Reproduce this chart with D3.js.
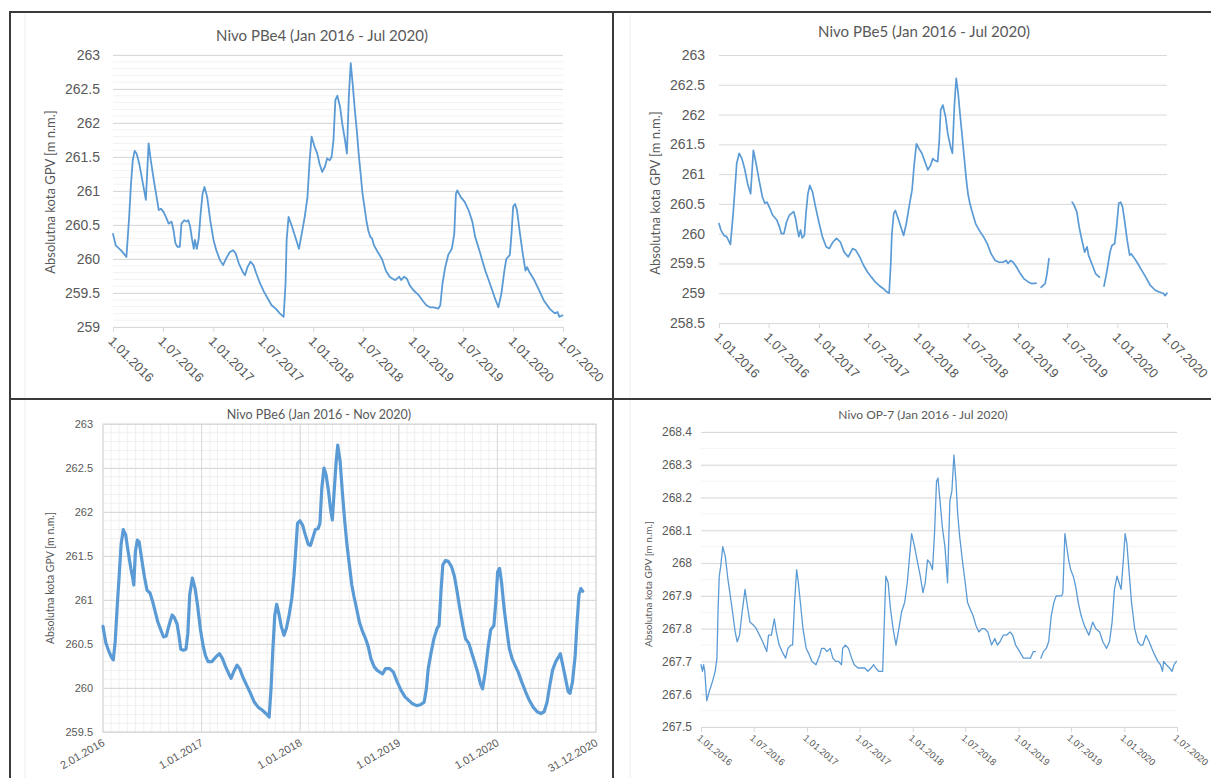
<!DOCTYPE html>
<html><head><meta charset="utf-8">
<script src="https://cdn.jsdelivr.net/npm/d3@7"></script>
<style>
html,body{margin:0;padding:0;background:#fff;}
svg{display:block;font-family:Lato,"Liberation Sans",Arial,sans-serif;}
</style></head><body>
<svg id="chart" width="1211" height="778"></svg>
<script>
// ---------------- DATA ----------------
const pbe4 = [["2016-01-01",260.37],["2016-01-11",260.2],["2016-02-01",260.12],["2016-02-19",260.03],["2016-02-29",260.62],["2016-03-06",261.06],["2016-03-13",261.45],["2016-03-20",261.59],["2016-03-27",261.55],["2016-04-06",261.4],["2016-04-17",261.16],["2016-04-30",260.87],["2016-05-10",261.7],["2016-05-18",261.45],["2016-05-29",261.16],["2016-06-10",260.87],["2016-06-16",260.72],["2016-06-24",260.74],["2016-07-04",260.69],["2016-07-14",260.6],["2016-07-22",260.52],["2016-08-02",260.55],["2016-08-09",260.42],["2016-08-16",260.23],["2016-08-23",260.18],["2016-09-01",260.18],["2016-09-07",260.52],["2016-09-17",260.57],["2016-09-25",260.55],["2016-10-02",260.57],["2016-10-09",260.47],["2016-10-16",260.28],["2016-10-22",260.15],["2016-10-26",260.28],["2016-11-02",260.15],["2016-11-09",260.3],["2016-11-16",260.67],["2016-11-23",260.96],["2016-11-30",261.06],["2016-12-10",260.91],["2016-12-21",260.57],["2017-01-02",260.28],["2017-01-12",260.13],["2017-01-26",259.98],["2017-02-06",259.91],["2017-02-16",260.0],["2017-03-02",260.1],["2017-03-14",260.13],["2017-03-24",260.08],["2017-04-05",259.93],["2017-04-19",259.81],["2017-04-27",259.76],["2017-05-06",259.88],["2017-05-17",259.96],["2017-05-28",259.91],["2017-06-07",259.79],["2017-06-21",259.64],["2017-07-05",259.52],["2017-07-19",259.42],["2017-08-02",259.32],["2017-08-17",259.27],["2017-09-01",259.2],["2017-09-15",259.15],["2017-09-22",259.64],["2017-09-26",260.28],["2017-10-03",260.62],["2017-10-16",260.47],["2017-10-27",260.33],["2017-11-10",260.15],["2017-11-20",260.37],["2017-12-01",260.62],["2017-12-11",260.91],["2017-12-19",261.45],["2017-12-26",261.8],["2018-01-06",261.65],["2018-01-16",261.55],["2018-01-24",261.4],["2018-02-03",261.28],["2018-02-13",261.36],["2018-02-21",261.48],["2018-03-02",261.45],["2018-03-09",261.5],["2018-03-16",261.75],["2018-03-23",262.34],["2018-03-30",262.4],["2018-04-09",262.24],["2018-04-17",261.99],["2018-04-27",261.75],["2018-05-04",261.55],["2018-05-11",262.39],["2018-05-18",262.88],["2018-05-25",262.58],["2018-06-02",262.19],["2018-06-09",261.9],["2018-06-16",261.55],["2018-06-23",261.26],["2018-06-30",260.96],["2018-07-07",260.77],["2018-07-14",260.57],["2018-07-21",260.42],["2018-07-28",260.33],["2018-08-04",260.3],["2018-08-11",260.2],["2018-08-25",260.1],["2018-09-09",260.0],["2018-09-23",259.83],["2018-10-07",259.74],["2018-10-18",259.71],["2018-10-28",259.69],["2018-11-11",259.74],["2018-11-18",259.69],["2018-11-29",259.74],["2018-12-09",259.71],["2018-12-20",259.61],["2019-01-02",259.54],["2019-01-21",259.47],["2019-02-04",259.39],["2019-02-18",259.32],["2019-03-03",259.29],["2019-03-17",259.29],["2019-04-03",259.27],["2019-04-10",259.32],["2019-04-18",259.64],["2019-04-28",259.88],["2019-05-09",260.06],["2019-05-22",260.15],["2019-05-31",260.37],["2019-06-06",260.96],["2019-06-11",261.01],["2019-06-24",260.91],["2019-07-08",260.84],["2019-07-22",260.72],["2019-08-05",260.55],["2019-08-15",260.33],["2019-09-03",260.08],["2019-09-21",259.83],["2019-10-08",259.64],["2019-10-25",259.44],["2019-11-08",259.29],["2019-11-19",259.49],["2019-11-30",259.83],["2019-12-07",260.0],["2019-12-20",260.06],["2019-12-26",260.37],["2020-01-01",260.77],["2020-01-08",260.81],["2020-01-15",260.72],["2020-01-26",260.37],["2020-02-05",260.08],["2020-02-15",259.83],["2020-02-21",259.88],["2020-02-29",259.81],["2020-03-18",259.69],["2020-04-05",259.54],["2020-04-22",259.39],["2020-05-13",259.27],["2020-06-01",259.2],["2020-06-11",259.22],["2020-06-18",259.15],["2020-06-29",259.17]];

const pbe5 = [["2016-01-01",260.17],["2016-01-08",260.06],["2016-01-19",259.97],["2016-01-29",259.95],["2016-02-12",259.82],["2016-02-22",260.34],["2016-02-29",260.79],["2016-03-06",261.18],["2016-03-15",261.35],["2016-03-25",261.26],["2016-04-04",261.09],["2016-04-15",260.84],["2016-04-26",260.67],["2016-05-06",261.4],["2016-05-16",261.18],["2016-05-27",260.9],["2016-06-08",260.62],["2016-06-17",260.51],["2016-06-25",260.53],["2016-07-06",260.42],["2016-07-16",260.31],["2016-07-31",260.23],["2016-08-10",260.11],["2016-08-17",260.0],["2016-08-26",260.0],["2016-09-05",260.2],["2016-09-15",260.31],["2016-09-23",260.34],["2016-10-01",260.37],["2016-10-08",260.25],["2016-10-15",260.06],["2016-10-20",259.95],["2016-10-26",260.06],["2016-11-01",259.93],["2016-11-09",259.97],["2016-11-15",260.34],["2016-11-22",260.67],["2016-11-29",260.81],["2016-12-09",260.7],["2016-12-20",260.45],["2017-01-01",260.2],["2017-01-14",259.95],["2017-01-28",259.78],["2017-02-08",259.75],["2017-02-22",259.86],["2017-03-07",259.92],["2017-03-21",259.86],["2017-04-04",259.69],["2017-04-19",259.61],["2017-05-05",259.75],["2017-05-17",259.72],["2017-05-31",259.61],["2017-06-14",259.47],["2017-06-28",259.36],["2017-07-13",259.27],["2017-07-27",259.19],["2017-08-10",259.13],["2017-08-25",259.08],["2017-09-08",259.02],["2017-09-16",259.0],["2017-09-22",259.5],["2017-09-26",260.0],["2017-10-03",260.34],["2017-10-09",260.39],["2017-10-17",260.28],["2017-10-27",260.14],["2017-11-08",259.97],["2017-11-18",260.17],["2017-11-28",260.45],["2017-12-09",260.73],["2017-12-16",261.12],["2017-12-25",261.51],["2018-01-03",261.43],["2018-01-14",261.35],["2018-01-25",261.21],["2018-02-05",261.07],["2018-02-15",261.15],["2018-02-23",261.26],["2018-03-03",261.23],["2018-03-13",261.21],["2018-03-19",261.57],["2018-03-24",262.08],["2018-04-01",262.16],["2018-04-11",261.96],["2018-04-19",261.68],["2018-04-29",261.46],["2018-05-06",261.35],["2018-05-13",262.13],["2018-05-20",262.61],["2018-05-27",262.36],["2018-06-04",261.96],["2018-06-11",261.63],["2018-06-18",261.29],["2018-06-25",260.95],["2018-07-02",260.67],["2018-07-09",260.51],["2018-07-16",260.39],["2018-07-23",260.28],["2018-07-30",260.17],["2018-08-06",260.11],["2018-08-16",260.03],["2018-08-28",259.95],["2018-09-11",259.83],["2018-09-25",259.66],["2018-10-10",259.55],["2018-10-24",259.52],["2018-11-07",259.52],["2018-11-19",259.55],["2018-11-26",259.5],["2018-12-05",259.55],["2018-12-15",259.52],["2018-12-27",259.44],["2019-01-10",259.33],["2019-01-24",259.24],["2019-02-08",259.19],["2019-02-22",259.16],["2019-03-09",259.17],["2019-03-18",null],["2019-03-27",259.1],["2019-04-11",259.16],["2019-04-18",259.33],["2019-04-25",259.58],["2019-06-01",null],["2019-07-19",260.53],["2019-07-26",260.48],["2019-08-05",260.37],["2019-08-14",260.11],["2019-08-24",259.89],["2019-09-03",259.69],["2019-09-12",259.78],["2019-09-17",259.64],["2019-09-29",259.5],["2019-10-13",259.33],["2019-10-27",259.27],["2019-11-05",null],["2019-11-13",259.12],["2019-11-24",259.38],["2019-12-05",259.69],["2019-12-12",259.8],["2019-12-22",259.83],["2019-12-29",260.11],["2020-01-06",260.51],["2020-01-13",260.53],["2020-01-20",260.45],["2020-01-27",260.23],["2020-02-06",259.89],["2020-02-15",259.64],["2020-02-21",259.66],["2020-02-29",259.61],["2020-03-13",259.52],["2020-03-31",259.38],["2020-04-14",259.27],["2020-05-01",259.13],["2020-05-19",259.05],["2020-06-02",259.02],["2020-06-17",259.0],["2020-06-24",258.96],["2020-07-01",259.0]];

const pbe6 = [["2016-01-02",260.7],["2016-01-12",260.52],["2016-01-22",260.43],["2016-02-02",260.35],["2016-02-09",260.32],["2016-02-16",260.52],["2016-02-23",260.9],["2016-03-02",261.28],["2016-03-09",261.63],["2016-03-17",261.8],["2016-03-26",261.74],["2016-04-04",261.55],["2016-04-14",261.36],["2016-04-21",261.25],["2016-04-25",261.17],["2016-05-01",261.55],["2016-05-08",261.68],["2016-05-15",261.66],["2016-05-24",261.47],["2016-06-03",261.27],["2016-06-13",261.11],["2016-06-24",261.08],["2016-07-04",260.98],["2016-07-13",260.87],["2016-07-23",260.75],["2016-08-03",260.66],["2016-08-13",260.58],["2016-08-23",260.59],["2016-09-04",260.73],["2016-09-14",260.83],["2016-09-22",260.8],["2016-10-02",260.73],["2016-10-09",260.6],["2016-10-16",260.44],["2016-10-26",260.43],["2016-11-04",260.44],["2016-11-11",260.62],["2016-11-18",261.06],["2016-11-28",261.25],["2016-12-08",261.13],["2016-12-17",260.94],["2016-12-27",260.68],["2017-01-06",260.49],["2017-01-15",260.37],["2017-01-25",260.3],["2017-02-08",260.3],["2017-02-22",260.35],["2017-03-08",260.39],["2017-03-20",260.33],["2017-03-31",260.24],["2017-04-12",260.16],["2017-04-20",260.11],["2017-05-02",260.2],["2017-05-12",260.26],["2017-05-22",260.22],["2017-06-02",260.13],["2017-06-17",260.03],["2017-07-01",259.94],["2017-07-15",259.84],["2017-07-30",259.78],["2017-08-13",259.75],["2017-08-27",259.71],["2017-09-08",259.67],["2017-09-15",259.99],["2017-09-22",260.45],["2017-09-29",260.83],["2017-10-06",260.95],["2017-10-15",260.83],["2017-10-23",260.7],["2017-11-02",260.6],["2017-11-11",260.68],["2017-11-21",260.83],["2017-12-01",261.02],["2017-12-09",261.28],["2017-12-16",261.59],["2017-12-22",261.87],["2017-12-31",261.9],["2018-01-10",261.85],["2018-01-20",261.74],["2018-01-31",261.63],["2018-02-08",261.62],["2018-02-18",261.72],["2018-02-26",261.8],["2018-03-08",261.81],["2018-03-15",261.87],["2018-03-22",262.27],["2018-03-30",262.5],["2018-04-07",262.42],["2018-04-16",262.23],["2018-04-23",262.04],["2018-04-30",261.91],["2018-05-06",262.2],["2018-05-14",262.57],["2018-05-20",262.76],["2018-05-29",262.57],["2018-06-06",262.23],["2018-06-15",261.89],["2018-06-23",261.63],["2018-07-02",261.4],["2018-07-11",261.17],["2018-07-19",261.04],["2018-07-29",260.9],["2018-08-08",260.75],["2018-08-20",260.64],["2018-08-31",260.56],["2018-09-10",260.47],["2018-09-20",260.33],["2018-10-02",260.24],["2018-10-13",260.2],["2018-10-23",260.18],["2018-11-02",260.16],["2018-11-13",260.22],["2018-11-28",260.22],["2018-12-12",260.18],["2018-12-26",260.07],["2019-01-10",259.97],["2019-01-24",259.9],["2019-02-07",259.86],["2019-02-21",259.82],["2019-03-08",259.8],["2019-03-22",259.81],["2019-04-05",259.84],["2019-04-13",259.99],["2019-04-20",260.22],["2019-05-01",260.41],["2019-05-11",260.56],["2019-05-23",260.68],["2019-05-30",260.71],["2019-06-06",261.09],["2019-06-13",261.4],["2019-06-23",261.45],["2019-07-03",261.44],["2019-07-15",261.38],["2019-07-26",261.27],["2019-08-05",261.09],["2019-08-15",260.9],["2019-08-26",260.71],["2019-09-05",260.56],["2019-09-17",260.51],["2019-09-27",260.41],["2019-10-08",260.3],["2019-10-20",260.18],["2019-10-30",260.05],["2019-11-07",259.99],["2019-11-17",260.18],["2019-11-27",260.45],["2019-12-07",260.66],["2019-12-19",260.71],["2019-12-26",260.98],["2020-01-02",261.32],["2020-01-09",261.36],["2020-01-16",261.21],["2020-01-26",260.9],["2020-02-04",260.68],["2020-02-14",260.45],["2020-02-25",260.33],["2020-03-06",260.26],["2020-03-18",260.18],["2020-03-31",260.07],["2020-04-14",259.96],["2020-04-28",259.86],["2020-05-13",259.78],["2020-05-27",259.73],["2020-06-10",259.71],["2020-06-22",259.73],["2020-07-03",259.84],["2020-07-13",260.03],["2020-07-23",260.2],["2020-08-04",260.3],["2020-08-14",260.35],["2020-08-21",260.39],["2020-08-30",260.26],["2020-09-09",260.11],["2020-09-19",259.96],["2020-09-26",259.94],["2020-10-05",260.07],["2020-10-15",260.37],["2020-10-22",260.75],["2020-10-29",261.06],["2020-11-05",261.13],["2020-11-12",261.1]];

const op7 = [["2016-01-01",267.69],["2016-01-06",267.67],["2016-01-10",267.69],["2016-01-14",267.67],["2016-01-21",267.58],["2016-01-30",267.61],["2016-02-10",267.64],["2016-02-19",267.67],["2016-02-25",267.71],["2016-02-29",267.86],["2016-03-04",267.96],["2016-03-09",267.99],["2016-03-16",268.05],["2016-03-25",268.02],["2016-04-03",267.95],["2016-04-08",267.92],["2016-04-19",267.85],["2016-04-28",267.79],["2016-05-05",267.76],["2016-05-13",267.78],["2016-05-22",267.85],["2016-06-01",267.92],["2016-06-09",267.87],["2016-06-18",267.82],["2016-07-01",267.81],["2016-07-10",267.8],["2016-07-21",267.78],["2016-08-01",267.76],["2016-08-15",267.73],["2016-08-21",267.78],["2016-08-31",267.78],["2016-09-10",267.83],["2016-09-17",267.79],["2016-09-27",267.75],["2016-10-07",267.73],["2016-10-19",267.71],["2016-10-27",267.74],["2016-11-06",267.75],["2016-11-12",267.75],["2016-11-19",267.88],["2016-11-26",267.98],["2016-12-02",267.94],["2016-12-09",267.88],["2016-12-18",267.8],["2016-12-29",267.74],["2017-01-09",267.72],["2017-01-18",267.7],["2017-02-01",267.69],["2017-02-14",267.72],["2017-02-20",267.74],["2017-03-02",267.74],["2017-03-11",267.73],["2017-03-22",267.74],["2017-03-31",267.71],["2017-04-10",267.7],["2017-04-20",267.7],["2017-04-30",267.69],["2017-05-04",267.74],["2017-05-13",267.75],["2017-05-24",267.74],["2017-06-04",267.71],["2017-06-13",267.69],["2017-06-26",267.68],["2017-07-10",267.68],["2017-07-19",267.68],["2017-07-30",267.67],["2017-08-10",267.68],["2017-08-19",267.69],["2017-08-26",267.68],["2017-09-05",267.67],["2017-09-19",267.67],["2017-09-24",267.8],["2017-09-30",267.96],["2017-10-08",267.94],["2017-10-16",267.86],["2017-10-25",267.8],["2017-11-04",267.75],["2017-11-14",267.8],["2017-11-23",267.85],["2017-12-04",267.88],["2017-12-13",267.94],["2017-12-21",268.02],["2017-12-28",268.09],["2018-01-07",268.05],["2018-01-18",268.0],["2018-01-27",267.96],["2018-02-05",267.91],["2018-02-13",267.94],["2018-02-21",268.01],["2018-03-02",268.0],["2018-03-10",267.98],["2018-03-17",268.09],["2018-03-24",268.25],["2018-03-29",268.26],["2018-04-05",268.19],["2018-04-13",268.11],["2018-04-22",268.05],["2018-05-01",267.94],["2018-05-09",268.19],["2018-05-16",268.22],["2018-05-23",268.33],["2018-05-30",268.25],["2018-06-05",268.15],["2018-06-12",268.08],["2018-06-21",268.01],["2018-07-01",267.94],["2018-07-09",267.88],["2018-07-18",267.86],["2018-07-28",267.84],["2018-08-07",267.81],["2018-08-17",267.79],["2018-08-28",267.8],["2018-09-06",267.8],["2018-09-17",267.79],["2018-09-30",267.75],["2018-10-11",267.77],["2018-10-20",267.75],["2018-10-29",267.76],["2018-11-09",267.78],["2018-11-20",267.78],["2018-12-03",267.79],["2018-12-12",267.78],["2018-12-22",267.75],["2019-01-05",267.73],["2019-01-18",267.71],["2019-02-01",267.71],["2019-02-11",267.71],["2019-02-21",267.73],["2019-03-01",267.73],["2019-03-10",null],["2019-03-19",267.71],["2019-03-28",267.73],["2019-04-07",267.74],["2019-04-15",267.76],["2019-04-24",267.84],["2019-05-03",267.88],["2019-05-11",267.9],["2019-05-20",267.9],["2019-05-30",267.9],["2019-06-03",267.91],["2019-06-10",268.09],["2019-06-18",268.04],["2019-06-23",268.01],["2019-06-30",267.98],["2019-07-09",267.96],["2019-07-17",267.93],["2019-07-26",267.88],["2019-08-05",267.84],["2019-08-16",267.81],["2019-09-01",267.78],["2019-09-14",267.82],["2019-09-25",267.8],["2019-10-08",267.79],["2019-10-19",267.76],["2019-11-01",267.74],["2019-11-11",267.76],["2019-11-20",267.82],["2019-11-28",267.92],["2019-12-07",267.96],["2019-12-14",267.94],["2019-12-21",267.92],["2019-12-28",268.0],["2020-01-04",268.09],["2020-01-10",268.06],["2020-01-17",267.98],["2020-01-26",267.88],["2020-02-06",267.8],["2020-02-17",267.76],["2020-02-26",267.75],["2020-03-05",267.75],["2020-03-16",267.78],["2020-03-27",267.76],["2020-04-05",267.74],["2020-04-15",267.72],["2020-04-26",267.7],["2020-05-05",267.69],["2020-05-12",267.67],["2020-05-16",267.7],["2020-05-25",267.69],["2020-06-05",267.68],["2020-06-14",267.67],["2020-06-21",267.69],["2020-06-29",267.7]];

const titlePBe4 = "Nivo PBe4 (Jan 2016 - Jul 2020)";
const titlePBe5 = "Nivo PBe5 (Jan 2016 - Jul 2020)";
const titlePBe6 = "Nivo PBe6 (Jan 2016 - Nov 2020)";
const titleOP7  = "Nivo OP-7 (Jan 2016 - Jul 2020)";
const yAxisTitle = "Absolutna kota GPV [m n.m.]";

const yTicksPBe4 = [259, 259.5, 260, 260.5, 261, 261.5, 262, 262.5, 263];
const yTicksPBe5 = [258.5, 259, 259.5, 260, 260.5, 261, 261.5, 262, 262.5, 263];
const yTicksPBe6 = [259.5, 260, 260.5, 261, 261.5, 262, 262.5, 263];
const yTicksOP7  = [267.5, 267.6, 267.7, 267.8, 267.9, 268, 268.1, 268.2, 268.3, 268.4];
const xTicksHalfYear = ["2016-01-01","2016-07-01","2017-01-01","2017-07-01","2018-01-01","2018-07-01","2019-01-01","2019-07-01","2020-01-01","2020-07-01"];
const xTicksPBe6 = ["2016-01-02","2017-01-01","2018-01-01","2019-01-01","2020-01-01","2020-12-31"];

// ---------------- DRAWING ----------------
const parse = d3.timeParse("%Y-%m-%d");
const fmtDate = d3.timeFormat("%-d.%m.%Y");
const fmtNum = v => String(+v.toFixed(2));
const svg = d3.select("#chart");
const TXT = "#595959", BLUE = "#5b9bd5";

function drawPanel(c) {
  const g = svg.append("g");
  const xd = c.xTicks.map(parse);
  const x = d3.scaleTime().domain([xd[0], xd[xd.length - 1]]).range([c.x0, c.x1]);
  const y = d3.scaleLinear().domain([c.yTicks[0], c.yTicks[c.yTicks.length - 1]]).range([c.yBot, c.yTop]);

  if (c.yMinor) {
    const n = Math.round((y.domain()[1] - y.domain()[0]) / c.yMinor);
    const vals = d3.range(n + 1).map(i => y.domain()[0] + i * c.yMinor);
    g.append("g").selectAll("line").data(vals).join("line")
      .attr("x1", c.x0).attr("x2", c.x1).attr("y1", d => y(d)).attr("y2", d => y(d))
      .attr("stroke", c.minorColor).attr("stroke-width", 1);
  }
  if (c.xMinorMonths) {
    const vals = d3.timeMonth.range(x.domain()[0], x.domain()[1]);
    g.append("g").selectAll("line").data(vals).join("line")
      .attr("x1", d => x(d)).attr("x2", d => x(d)).attr("y1", c.yTop).attr("y2", c.yBot)
      .attr("stroke", c.minorColor).attr("stroke-width", 1);
  }
  const ya = g.append("g").attr("transform", `translate(${c.x0},0)`)
    .call(d3.axisLeft(y).tickValues(c.yTicks).tickFormat(fmtNum)
      .tickSize(-(c.x1 - c.x0)).tickPadding(c.yPad));
  ya.select(".domain").remove();
  ya.selectAll(".tick line").attr("stroke", c.majorColor);
  ya.selectAll(".tick text").attr("fill", TXT).style("font-size", c.yFont + "px");

  if (c.xGrid) {
    g.append("g").selectAll("line").data(xd).join("line")
      .attr("x1", d => x(d)).attr("x2", d => x(d)).attr("y1", c.yTop).attr("y2", c.yBot)
      .attr("stroke", c.majorColor);
    g.append("rect").attr("x", c.x0).attr("y", c.yTop).attr("width", c.x1 - c.x0).attr("height", c.yBot - c.yTop)
      .attr("fill", "none").attr("stroke", c.majorColor);
  }

  const xa = g.append("g").attr("transform", `translate(0,${c.yBot})`)
    .call(d3.axisBottom(x).tickValues(xd).tickFormat(fmtDate).tickSize(c.tickLen));
  xa.select(".domain").attr("stroke", c.majorColor);
  xa.selectAll(".tick line").attr("stroke", c.majorColor);
  xa.selectAll(".tick text")
    .attr("x", 0).attr("y", 0).attr("dy", null)
    .attr("text-anchor", c.xAnchor)
    .attr("transform", `translate(${c.xdx},${c.xdy}) rotate(${c.xRot})`)
    .attr("fill", TXT).style("font-size", c.xFont + "px");

  const line = d3.line().defined(d => d[1] != null)
    .x(d => x(parse(d[0]))).y(d => y(d[1]));
  g.append("path").datum(c.data).attr("d", line)
    .attr("fill", "none").attr("stroke", BLUE).attr("stroke-width", c.lw)
    .attr("stroke-linejoin", "round").attr("stroke-linecap", "round");

  g.append("text").attr("x", c.tx).attr("y", c.ty).attr("text-anchor", "middle")
    .attr("fill", TXT).style("font-size", c.tFont + "px").text(c.title);
  g.append("text").attr("transform", `translate(${c.ytx},${c.yty}) rotate(-90)`)
    .attr("text-anchor", "middle").attr("dy", "0.35em")
    .attr("fill", TXT).style("font-size", c.ytFont + "px").text(yAxisTitle);
}

drawPanel({data: pbe4, title: titlePBe4, yTicks: yTicksPBe4, xTicks: xTicksHalfYear,
  x0: 113, x1: 563, yTop: 55, yBot: 327, yMinor: 0.1, minorColor: "#f2f2f2", majorColor: "#d9d9d9",
  yPad: 13, yFont: 14, xFont: 13, xRot: 45, xAnchor: "start", xdx: -6, xdy: 15, tickLen: 5,
  lw: 1.8, tx: 322, ty: 41, tFont: 15, ytx: 50, yty: 192, ytFont: 13});

drawPanel({data: pbe5, title: titlePBe5, yTicks: yTicksPBe5, xTicks: xTicksHalfYear,
  x0: 719, x1: 1167, yTop: 55, yBot: 323, yMinor: null, minorColor: "#f2f2f2", majorColor: "#d9d9d9",
  yPad: 14, yFont: 14, xFont: 13, xRot: 45, xAnchor: "start", xdx: -6, xdy: 15, tickLen: 5,
  lw: 1.7, tx: 924, ty: 37, tFont: 15, ytx: 655, yty: 193, ytFont: 13});

drawPanel({data: pbe6, title: titlePBe6, yTicks: yTicksPBe6, xTicks: xTicksPBe6,
  x0: 103, x1: 596, yTop: 424, yBot: 732, yMinor: 0.1, xMinorMonths: true, xGrid: true,
  minorColor: "#efefef", majorColor: "#d9d9d9",
  yPad: 10, yFont: 11, xFont: 11, xRot: -30, xAnchor: "end", xdx: 2, xdy: 13, tickLen: 0,
  lw: 3.2, tx: 319, ty: 419, tFont: 12.5, ytx: 50, yty: 578, ytFont: 10.5});

drawPanel({data: op7, title: titleOP7, yTicks: yTicksOP7, xTicks: xTicksHalfYear,
  x0: 701, x1: 1177, yTop: 432, yBot: 727, yMinor: 0.05, minorColor: "#f4f4f4", majorColor: "#d9d9d9",
  yPad: 9, yFont: 12, xFont: 9.5, xRot: 40, xAnchor: "start", xdx: -5, xdy: 12, tickLen: 5,
  lw: 1.3, tx: 923, ty: 419, tFont: 12, ytx: 648, yty: 584, ytFont: 10});

[25, 630].forEach(xv => svg.append("line").attr("x1", xv).attr("x2", xv).attr("y1", 14).attr("y2", 778)
  .attr("stroke", "#ececec"));

const frame = svg.append("g").attr("stroke", "#3a3a3a").attr("stroke-width", 2);
frame.append("line").attr("x1", 9).attr("x2", 1211).attr("y1", 12).attr("y2", 12);
frame.append("line").attr("x1", 10).attr("x2", 10).attr("y1", 11).attr("y2", 778);
frame.append("line").attr("x1", 613).attr("x2", 613).attr("y1", 11).attr("y2", 778);
frame.append("line").attr("x1", 9).attr("x2", 1211).attr("y1", 399).attr("y2", 399);
</script>
</body></html>
